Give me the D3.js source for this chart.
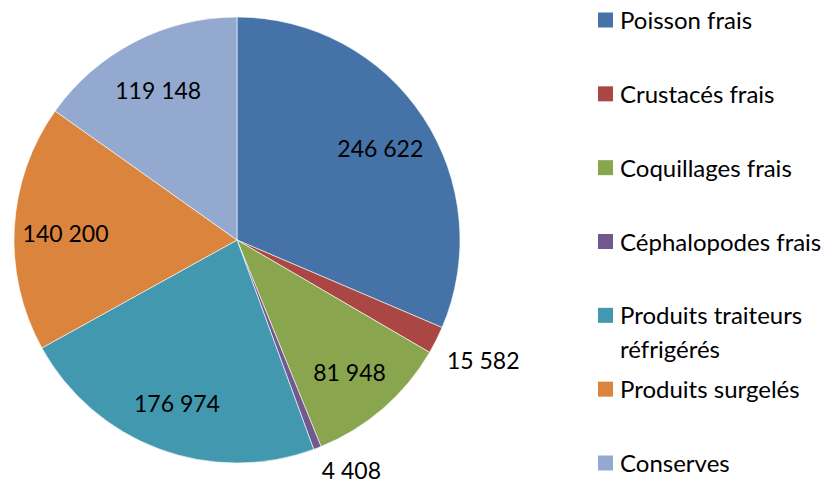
<!DOCTYPE html>
<html>
<head>
    <meta charset="utf-8">
    <script src="https://d3js.org/d3.v7.min.js"></script>
    <style>
        body { margin: 0; background: #fff; }
        text { font-family: 'Lato', sans-serif; fill: #000; }
        .slice-label { font-size: 23px; }
        .legend-label { font-size: 24px; }
    </style>
</head>
<body>
    <svg width="827" height="486"></svg>
    <script>
        // Data
        const categories = ["Poisson frais", "Crustacés frais", "Coquillages frais", "Céphalopodes frais",
                            "Produits traiteurs réfrigérés", "Produits surgelés", "Conserves"];
        const values = [246622, 15582, 81948, 4408, 176974, 140200, 119148];
        const colors = ["#4572A7", "#AA4643", "#89A54E", "#71588F", "#4198AF", "#DB843D", "#93A9CF"];
        // legend lines (wrapped like the original)
        const legendLines = [["Poisson frais"], ["Crustacés frais"], ["Coquillages frais"], ["Céphalopodes frais"],
                             ["Produits traiteurs", "réfrigérés"], ["Produits surgelés"], ["Conserves"]];

        const fr = d3.formatLocale({decimal: ",", thousands: " ", grouping: [3], currency: ["", " €"]});
        const fmt = fr.format(",d");

        const svg = d3.select("svg");
        const H = 486;
        const cx = 237, cy = 240, r = 223;

        const data = categories.map((c, i) => ({name: c, value: values[i], color: colors[i], lines: legendLines[i]}));
        const total = d3.sum(values);

        const pie = d3.pie().value(d => d.value).sort(null);
        const arcs = pie(data);
        const arc = d3.arc().innerRadius(0).outerRadius(r);
        const labelArc = d3.arc().innerRadius(r * 0.77).outerRadius(r * 0.77);

        const g = svg.append("g").attr("transform", `translate(${cx},${cy})`);

        g.selectAll("path")
         .data(arcs)
         .join("path")
         .attr("d", arc)
         .attr("fill", d => d.data.color)
         .attr("stroke", "#ffffff")
         .attr("stroke-width", 0.6);

        // labels: inside for big slices, outside for small ones
        arcs.forEach(d => {
            const share = d.data.value / total;
            const mid = (d.startAngle + d.endAngle) / 2;
            if (share > 0.05) {
                const [x, y] = labelArc.centroid(d);
                g.append("text")
                 .attr("class", "slice-label")
                 .attr("x", x).attr("y", y)
                 .attr("dy", "0.5em")
                 .attr("text-anchor", "middle")
                 .text(fmt(d.data.value));
            } else {
                const rr = r + 12;
                const x = Math.sin(mid) * rr;
                // baseline, kept inside the bottom edge
                const y = Math.min(-Math.cos(mid) * rr + 23, H - cy - 7);
                g.append("text")
                 .attr("class", "slice-label")
                 .attr("x", x).attr("y", y)
                 .attr("text-anchor", x >= 0 ? "start" : "end")
                 .text(fmt(d.data.value));
            }
        });

        // legend
        const legendY = d3.scalePoint().domain(categories).range([20, 463]);
        const legend = svg.append("g");
        data.forEach(d => {
            const y = legendY(d.name);
            legend.append("rect")
                  .attr("x", 598).attr("y", y - 7.5)
                  .attr("width", 15).attr("height", 15)
                  .attr("fill", d.color);
            const t = legend.append("text")
                  .attr("class", "legend-label")
                  .attr("x", 620).attr("y", y);
            d.lines.forEach((line, j) => {
                t.append("tspan").attr("x", 620).attr("dy", j === 0 ? "0.38em" : "1.4em").text(line);
            });
        });
    </script>
</body>
</html>
